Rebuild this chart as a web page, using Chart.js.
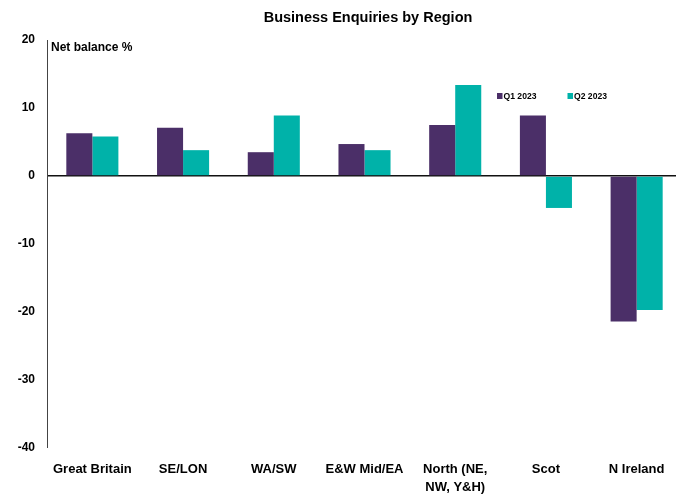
<!DOCTYPE html>
<html>
<head>
<meta charset="utf-8">
<script src="https://cdn.jsdelivr.net/npm/chart.js@4"></script>
<style>
html,body{margin:0;padding:0;background:#fff;overflow:hidden;}
#wrap{position:relative;width:682px;height:498px;}
</style>
</head>
<body>
<div id="wrap"><canvas id="c"></canvas></div>
<script>
const categories = ['Great Britain', 'SE/LON', 'WA/SW', 'E&W Mid/EA', ['North (NE,', 'NW, Y&H)'], 'Scot', 'N Ireland'];
const seriesNames = ['Q1 2023', 'Q2 2023'];
const q1Values = [6.3, 7.1, 3.5, 4.7, 7.5, 8.9, -21.4];
const q2Values = [5.8, 3.8, 8.9, 3.8, 13.4, -4.7, -19.7];
const yTicks = [20, 10, 0, -10, -20, -30, -40];
const titleText = 'Business Enquiries by Region';
const yAxisTitle = 'Net balance %';

const colors = ['#4B2F68', '#00B2A9'];
const FONT = '"Liberation Sans", Arial, sans-serif';

const overlay = {
  id: 'overlay',
  afterDraw(chart) {
    const ctx = chart.ctx;
    const area = chart.chartArea;
    ctx.save();
    ctx.fillStyle = '#000';
    ctx.textBaseline = 'middle';
    ctx.textAlign = 'center';
    ctx.font = 'bold 14.5px ' + FONT;
    ctx.fillText(titleText, 368, 18);
    ctx.textAlign = 'left';
    ctx.font = 'bold 12px ' + FONT;
    ctx.fillText(yAxisTitle, area.left + 4, 48);
    // legend
    const lx = [497, 567.5];
    ctx.font = 'bold 8.6px ' + FONT;
    chart.data.datasets.forEach((ds, i) => {
      ctx.fillStyle = ds.backgroundColor;
      ctx.fillRect(lx[i], 93, 5.5, 6);
      ctx.fillStyle = '#000';
      ctx.fillText(ds.label, lx[i] + 6.5, 96.5);
    });
    ctx.restore();
  }
};

new Chart(document.getElementById('c'), {
  type: 'bar',
  data: {
    labels: categories,
    datasets: [
      { label: seriesNames[0], data: q1Values, backgroundColor: colors[0], borderWidth: 0 },
      { label: seriesNames[1], data: q2Values, backgroundColor: colors[1], borderWidth: 0 }
    ]
  },
  options: {
    responsive: true,
    maintainAspectRatio: false,
    animation: false,
    layout: { padding: { top: 40, right: 0, bottom: 0, left: 0 } },
    datasets: { bar: { categoryPercentage: 0.574, barPercentage: 1.0 } },
    plugins: { legend: { display: false }, title: { display: false }, tooltip: { enabled: false } },
    scales: {
      x: {
        grid: { display: false, drawTicks: false },
        border: { display: false },
        ticks: { color: '#000', font: { family: FONT, size: 13, weight: 'bold', lineHeight: 1.4 }, padding: 12, maxRotation: 0, autoSkip: false },
        afterFit(scale) { scale.height = 50; }
      },
      y: {
        min: -40, max: 20,
        afterBuildTicks(scale) { scale.ticks = yTicks.map(v => ({ value: v })); },
        grid: {
          drawTicks: false,
          color: (c) => c.tick && c.tick.value === 0 ? '#111' : 'rgba(0,0,0,0)',
          lineWidth: (c) => c.tick && c.tick.value === 0 ? 1.6 : 0
        },
        border: { display: true, color: '#444', width: 1 },
        ticks: { color: '#000', font: { family: FONT, size: 12, weight: 'bold' }, padding: 12 },
        afterFit(scale) { scale.width = 47; }
      }
    }
  },
  plugins: [overlay]
});
</script>
</body>
</html>
